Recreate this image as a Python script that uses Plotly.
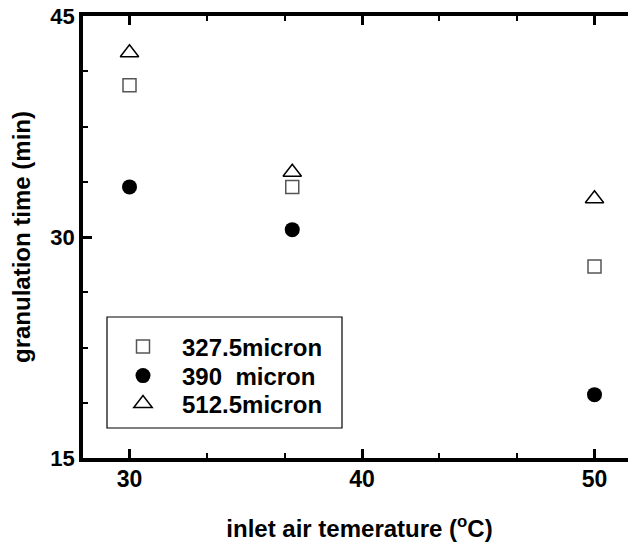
import plotly.graph_objects as go

temps = [30, 37, 50]
t_3275 = [40.3, 33.4, 28.0]
t_390 = [33.4, 30.5, 19.3]
t_5125 = [42.5, 34.4, 32.6]
names = ["327.5micron", "390  micron", "512.5micron"]

FONT = "Liberation Sans, Arial, sans-serif"

fig = go.Figure()
fig.add_trace(go.Scatter(x=temps, y=t_3275, mode="markers", name=names[0], legend="legend",
                         marker=dict(symbol="square-open", size=13, color="#555555",
                                     line=dict(width=1.5))))
fig.add_trace(go.Scatter(x=temps, y=t_390, mode="markers", name=names[1], legend="legend2",
                         marker=dict(symbol="circle", size=15, color="black")))
fig.add_trace(go.Scatter(x=temps, y=t_5125, mode="markers", name=names[2], legend="legend3",
                         marker=dict(symbol="triangle-up-open", size=16, color="black",
                                     line=dict(width=1.5))))

# page body adds an 8px offset; figure is sized so the plot area lands where the reference has it
leg_common = dict(xanchor="left", yanchor="middle", bgcolor="rgba(0,0,0,0)",
                  borderwidth=0, itemwidth=68,
                  font=dict(family=FONT, size=24, weight=700))
lx = (104 - 83) / 553

fig.update_layout(
    width=628, height=538,
    margin=dict(l=75, r=0, t=8, b=88, autoexpand=False),
    paper_bgcolor="white", plot_bgcolor="white",
    font=dict(family=FONT, size=22, color="black", weight=700),
    showlegend=True,
    legend=dict(x=lx, y=(458 - 347) / 442, **leg_common),
    legend2=dict(x=lx, y=(458 - 376) / 442, **leg_common),
    legend3=dict(x=lx, y=(458 - 404) / 442, **leg_common),
    xaxis=dict(range=[28, 51.785], showgrid=False, zeroline=False, automargin=False,
               showline=True, linecolor="black", linewidth=3.5, mirror="ticks",
               ticks="inside", ticklen=9, tickwidth=3, tickcolor="black",
               tickvals=[30, 40, 50], ticktext=["30", "40", "50"],
               tickfont=dict(family=FONT, size=23, weight=700),
               ticklabelstandoff=-2, ticklabeloverflow="allow",
               minor=dict(tickvals=[33.333, 36.667, 43.333, 46.667], ticks="inside",
                          ticklen=5, tickwidth=2, tickcolor="black"),
               title=dict(text="inlet air temerature (<sup>o</sup>C)",
                          font=dict(family=FONT, size=24, weight=700), standoff=30)),
    yaxis=dict(range=[15, 45], showgrid=False, zeroline=False, automargin=False,
               showline=True, linecolor="black", linewidth=3.5, mirror=False,
               ticks="inside", ticklen=9, tickwidth=3, tickcolor="black",
               tickvals=[15, 30, 45], ticktext=["15", "30", "45"],
               tickfont=dict(family=FONT, size=22, weight=700),
               ticklabelstandoff=0, ticklabeloverflow="allow",
               minor=dict(tickvals=[18.75, 22.5, 26.25, 33.75, 37.5, 41.25],
                          ticks="inside", ticklen=5, tickwidth=2, tickcolor="black"),
               title=dict(text="granulation time (min)",
                          font=dict(family=FONT, size=24, weight=700), standoff=18)),
    yaxis2=dict(range=[15, 45], overlaying="y", side="right", matches="y",
                automargin=False,
                showgrid=False, zeroline=False, showline=False, showticklabels=False,
                ticks="inside", ticklen=4, tickwidth=3, tickcolor="black",
                tickvals=[15, 30, 45],
                minor=dict(tickvals=[18.75, 22.5, 26.25, 33.75, 37.5, 41.25],
                           ticks="inside", ticklen=1.5, tickwidth=2, tickcolor="black")),
)

# legend frame
fig.add_shape(type="rect", xref="paper", yref="paper",
              x0=(107 - 83) / 553, x1=(342 - 83) / 553,
              y0=(458 - 428) / 442, y1=(458 - 317) / 442,
              line=dict(color="black", width=1.2), fillcolor="rgba(0,0,0,0)")

fig.write_html("out.html")
